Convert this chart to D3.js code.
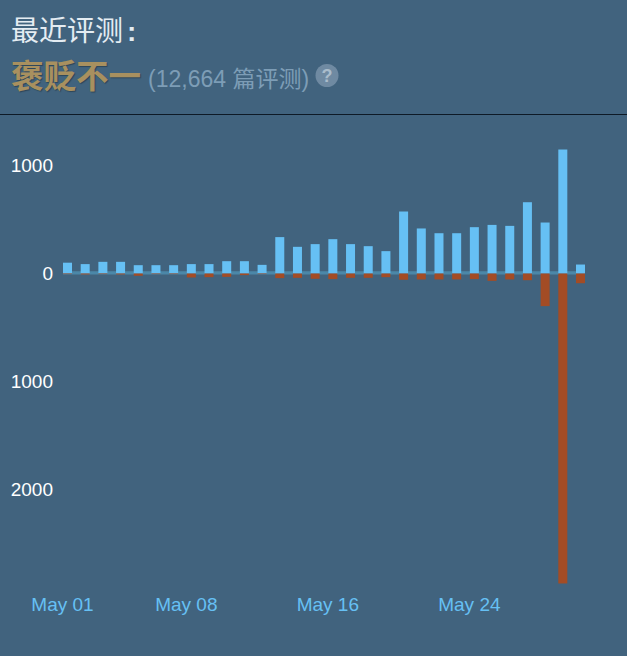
<!DOCTYPE html>
<html>
<head>
<meta charset="utf-8">
<script src="https://cdn.jsdelivr.net/npm/d3@7/dist/d3.min.js"></script>
<style>
    html, body { margin: 0; padding: 0; background: #41637e; overflow: hidden; }
    svg { display: block; }
    text { font-family: "Liberation Sans", Arial, sans-serif; }
    .cjk { font-family: "Liberation Sans", "Noto Sans CJK SC", sans-serif; }
    .axis .domain, .axis line { display: none; }
</style>
</head>
<body>
<div id="chart"></div>
<script>
const days = d3.range(1, 31);
const positive = [100, 87, 108, 108, 77, 77, 77, 87, 87, 114, 114, 80, 337, 247, 272,
    318, 272, 253, 207, 574, 417, 373, 373, 429, 450, 441, 660, 472, 1148, 83];
const negative = [6, 9, 6, 9, 21, 6, 6, 37, 34, 31, 15, 6, 43, 40, 49,
    52, 40, 40, 34, 58, 55, 55, 55, 52, 68, 55, 62, 302, 2870, 90];
const xTickDays = [1, 8, 16, 24];
const xTickLabels = ['May 01', 'May 08', 'May 16', 'May 24'];
const yTicks = [1000, 0, -1000, -2000];

const width = 627;
const height = 656;
const barWidth = 9;

const svg = d3.select('#chart')
    .append('svg')
    .attr('width', width)
    .attr('height', height);

// Header
const title = svg.append('text')
    .attr('class', 'cjk')
    .attr('x', 11)
    .attr('y', 41)
    .attr('font-size', 28)
    .attr('fill', '#e4ecf2')
    .text('最近评测');

title.append('tspan')
    .attr('dx', 4)
    .attr('font-weight', 700)
    .text(':');

svg.append('text')
    .attr('class', 'cjk')
    .attr('x', 11)
    .attr('y', 88)
    .attr('font-size', 32.5)
    .attr('font-weight', 700)
    .attr('fill', '#a8905f')
    .style('text-shadow', '1px 1px 1px rgba(0,0,0,0.3)')
    .text('褒贬不一');

svg.append('text')
    .attr('class', 'cjk')
    .attr('x', 148)
    .attr('y', 87)
    .attr('font-size', 23)
    .attr('fill', '#7d9db6')
    .text('(12,664 篇评测)');

svg.append('circle')
    .attr('cx', 327)
    .attr('cy', 75.5)
    .attr('r', 11.5)
    .attr('fill', '#6f8aa2');

svg.append('text')
    .attr('x', 327)
    .attr('y', 82)
    .attr('text-anchor', 'middle')
    .attr('font-size', 18)
    .attr('font-weight', 700)
    .attr('fill', '#a9bccb')
    .text('?');

svg.append('line')
    .attr('x1', 0)
    .attr('x2', width)
    .attr('y1', 114.5)
    .attr('y2', 114.5)
    .attr('stroke', '#0e1a26');

// Scales
const x = d3.scaleLinear()
    .domain([1, 30])
    .range([63, 576]);

const y = d3.scaleLinear()
    .domain([1000, -2000])
    .range([165.5, 489.5]);

// Zero line sits behind the bars
svg.append('line')
    .attr('x1', x(1))
    .attr('x2', x(30) + barWidth)
    .attr('y1', y(0) - 0.7)
    .attr('y2', y(0) - 0.7)
    .attr('stroke', '#4b87a8')
    .attr('stroke-width', 3.2);

svg.append('g')
    .selectAll('rect')
    .data(days)
    .join('rect')
    .attr('x', d => x(d))
    .attr('y', (d, i) => y(positive[i]))
    .attr('width', barWidth)
    .attr('height', (d, i) => y(0) - y(positive[i]))
    .attr('fill', '#66c0f4');

svg.append('g')
    .selectAll('rect')
    .data(days)
    .join('rect')
    .attr('x', d => x(d))
    .attr('y', y(0))
    .attr('width', barWidth)
    .attr('height', (d, i) => y(-negative[i]) - y(0))
    .attr('fill', '#a34c25');

// Axes
svg.append('g')
    .attr('class', 'axis')
    .attr('transform', 'translate(53,0)')
    .call(d3.axisLeft(y)
        .tickValues(yTicks)
        .tickSize(0)
        .tickPadding(0)
        .tickFormat(d => Math.abs(d)))
    .call(g => g.selectAll('text')
        .attr('font-size', 19)
        .attr('fill', '#ffffff')
        .style('font-family', '"Liberation Sans", Arial, sans-serif'));

svg.append('g')
    .attr('class', 'axis')
    .attr('transform', 'translate(-1,597)')
    .call(d3.axisBottom(x)
        .tickValues(xTickDays)
        .tickSize(0)
        .tickPadding(0)
        .tickFormat((d, i) => xTickLabels[i]))
    .call(g => g.selectAll('text')
        .attr('font-size', 19)
        .attr('fill', '#66c0f4')
        .style('font-family', '"Liberation Sans", Arial, sans-serif'));
</script>
</body>
</html>
